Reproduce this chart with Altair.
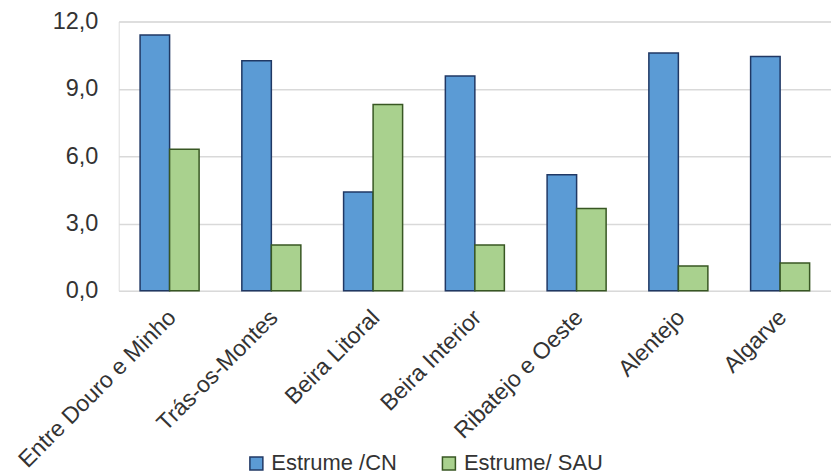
import altair as alt
import pandas as pd

regions = ["Entre Douro e Minho", "Trás-os-Montes", "Beira Litoral", "Beira Interior",
           "Ribatejo e Oeste", "Alentejo", "Algarve"]
estrume_cn = [11.4, 10.25, 4.4, 9.57, 5.17, 10.6, 10.44]
estrume_sau = [6.31, 2.04, 8.3, 2.04, 3.67, 1.11, 1.24]
series = ["Estrume /CN", "Estrume/ SAU"]
y_ticks = [0, 3, 6, 9, 12]

rows = []
for r, a, b in zip(regions, estrume_cn, estrume_sau):
    rows.append({"regiao": r, "serie": series[0], "valor": a})
    rows.append({"regiao": r, "serie": series[1], "valor": b})
df = pd.DataFrame(rows)

FONT = "Liberation Sans"
TEXT = "#333333"

bars = alt.Chart(df).mark_bar(strokeWidth=1.5).encode(
    x=alt.X("regiao:N", sort=regions, title=None,
            scale=alt.Scale(paddingInner=0.42, paddingOuter=0.21),
            axis=alt.Axis(labelAngle=-45, labelFontSize=23, labelFont=FONT,
                          labelColor=TEXT, ticks=False, domain=False,
                          labelPadding=15, labelOffset=-5, labelLimit=400, grid=False)),
    xOffset=alt.XOffset("serie:N", sort=series,
                        scale=alt.Scale(paddingInner=0, paddingOuter=0)),
    y=alt.Y("valor:Q", title=None,
            scale=alt.Scale(domain=[0, 12], nice=False),
            axis=alt.Axis(values=y_ticks, labelExpr="replace(format(datum.value, '.1f'), '.', ',')",
                          labelFontSize=23.5, labelFont=FONT, labelColor=TEXT,
                          ticks=False, domain=False, labelPadding=21,
                          gridColor="#D9D9D9", gridWidth=1.5)),
    color=alt.Color("serie:N", sort=series,
                    scale=alt.Scale(domain=series, range=["#5B9BD5", "#A9D18E"]),
                    legend=alt.Legend(title=None, orient="none", direction="horizontal",
                                      legendX=127, legendY=432, padding=0,
                                      symbolType="square", symbolSize=169,
                                      symbolStrokeWidth=1.5, labelFontSize=22,
                                      labelFont=FONT, labelColor=TEXT, labelOffset=4,
                                      columnPadding=41, labelLimit=400)),
    stroke=alt.Stroke("serie:N", sort=series,
                      scale=alt.Scale(domain=series, range=["#203864", "#385723"]),
                      legend=None),
)

chart = bars.properties(
    width=714, height=270,
    autosize=alt.AutoSizeParams(type="none"),
    padding={"left": 119, "top": 21, "right": 0, "bottom": 183},
).configure_view(stroke=None).configure(background="white")

chart.save("out.html", embed_options={"renderer": "svg", "actions": False})
